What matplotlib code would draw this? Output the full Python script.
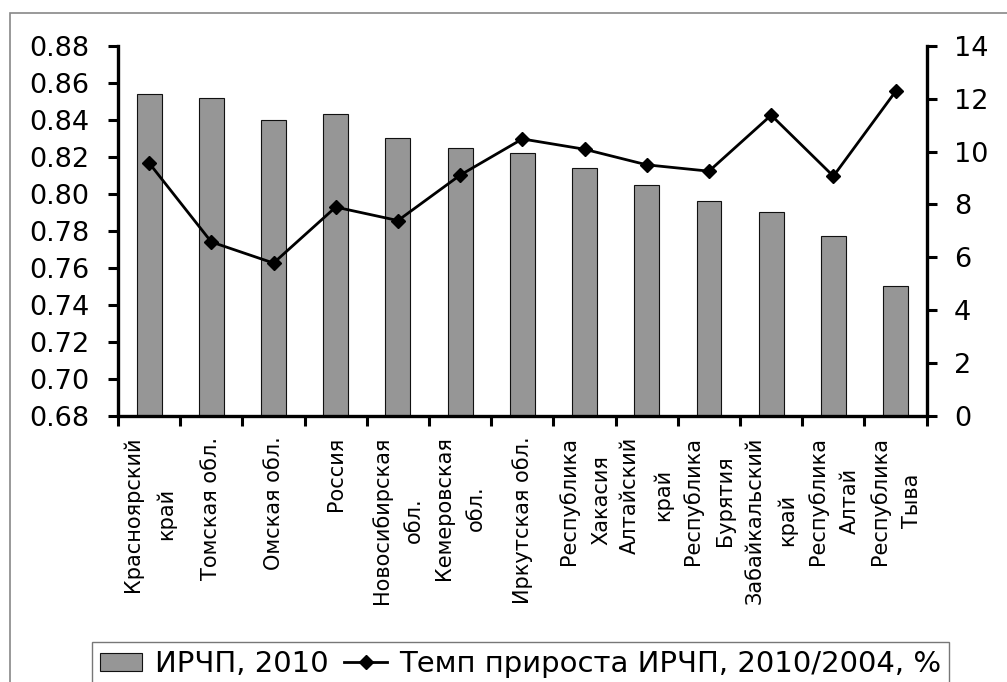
import matplotlib
matplotlib.use("Agg")
import matplotlib.pyplot as plt
from matplotlib.patches import Rectangle, Patch
from matplotlib.lines import Line2D

categories = ["Красноярский\nкрай", "Томская обл.", "Омская обл.", "Россия",
              "Новосибирская\nобл.", "Кемеровская\nобл.", "Иркутская обл.",
              "Республика\nХакасия", "Алтайский\nкрай", "Республика\nБурятия",
              "Забайкальский\nкрай", "Республика\nАлтай", "Республика\nТыва"]
hdi_2010 = [0.854, 0.852, 0.840, 0.843, 0.830, 0.825, 0.822,
            0.814, 0.805, 0.796, 0.790, 0.777, 0.750]
growth_pct = [9.57, 6.58, 5.78, 7.90, 7.39, 9.11, 10.48,
              10.09, 9.50, 9.26, 11.38, 9.07, 12.28]
left_ticks = [0.68, 0.70, 0.72, 0.74, 0.76, 0.78, 0.80, 0.82, 0.84, 0.86, 0.88]
right_ticks = [0, 2, 4, 6, 8, 10, 12, 14]
bar_label = "ИРЧП, 2010"
line_label = "Темп прироста ИРЧП, 2010/2004, %"

plt.rcParams['font.family'] = ['DejaVu Sans']

W, H = 1007, 682
fig = plt.figure(figsize=(W / 100, H / 100), dpi=100)
fig.patch.set_facecolor('white')

left, right, top, bottom = 118, 926.7, 46, 415.7
ax = fig.add_axes([left / W, 1 - bottom / H, (right - left) / W, (bottom - top) / H])
ax2 = ax.twinx()

x = list(range(len(categories)))
ax.bar(x, [v - 0.68 for v in hdi_2010], bottom=0.68, width=0.4, color='#969696',
       edgecolor='#111111', linewidth=0.8, zorder=2)
ax2.plot(x, growth_pct, color='black', linewidth=2.0, marker='D', markersize=6.8,
         markeredgecolor='black', markerfacecolor='black', zorder=3)

ax.set_xlim(-0.5, len(categories) - 0.5)
ax.set_ylim(0.68, 0.88)
ax2.set_ylim(0, 14)
ax.set_yticks(left_ticks)
ax.set_yticklabels([f"{t:.2f}" for t in left_ticks])
ax2.set_yticks(right_ticks)
ax2.set_yticklabels([str(t) for t in right_ticks])

# boundary ticks (major) and category labels (minor)
ax.set_xticks([i - 0.5 for i in range(len(categories) + 1)])
ax.set_xticklabels([])
ax.set_xticks(x, minor=True)
ax.set_xticklabels(categories, minor=True, rotation=90, fontsize=15,
                   va='top', ha='center', multialignment='center', linespacing=1.75)
ax.tick_params(axis='x', which='major', direction='out', length=7, width=2.2, color='black')
ax.tick_params(axis='x', which='minor', length=0, pad=15)
ax.tick_params(axis='y', direction='out', length=7.2, width=2.2, labelsize=19.5, pad=13.5)
ax2.tick_params(axis='y', direction='out', length=7.2, width=2.2, labelsize=19.5, pad=12.5)

for a in (ax, ax2):
    a.spines['top'].set_visible(False)
ax.spines['right'].set_visible(False)
ax2.spines['left'].set_visible(False)
ax2.spines['bottom'].set_visible(False)
for s in (ax.spines['left'], ax.spines['bottom'], ax2.spines['right']):
    s.set_linewidth(2.4)
    s.set_color('black')
ax.set_facecolor('none')

handles = [Patch(facecolor='#969696', edgecolor='#111111', linewidth=0.8),
           Line2D([], [], color='black', linewidth=2.0, marker='D', markersize=6.8)]
leg = fig.legend(handles, [bar_label, line_label], loc='upper left',
                 bbox_to_anchor=(92 / W, 1 - 642 / H), bbox_transform=fig.transFigure,
                 ncol=2, fontsize=21, frameon=True, fancybox=False, borderpad=0.28,
                 handlelength=1.45, handleheight=0.6, handletextpad=0.42,
                 columnspacing=0.55, borderaxespad=0)
leg.get_frame().set_edgecolor('#555555')
leg.get_frame().set_linewidth(1.0)

fig.add_artist(Rectangle((9.5 / W, -0.1), 1.2, (1 - 12.5 / H) + 0.1,
                         transform=fig.transFigure, fill=False,
                         edgecolor='#888888', linewidth=1.2))

fig.savefig("out.png", dpi=100)
